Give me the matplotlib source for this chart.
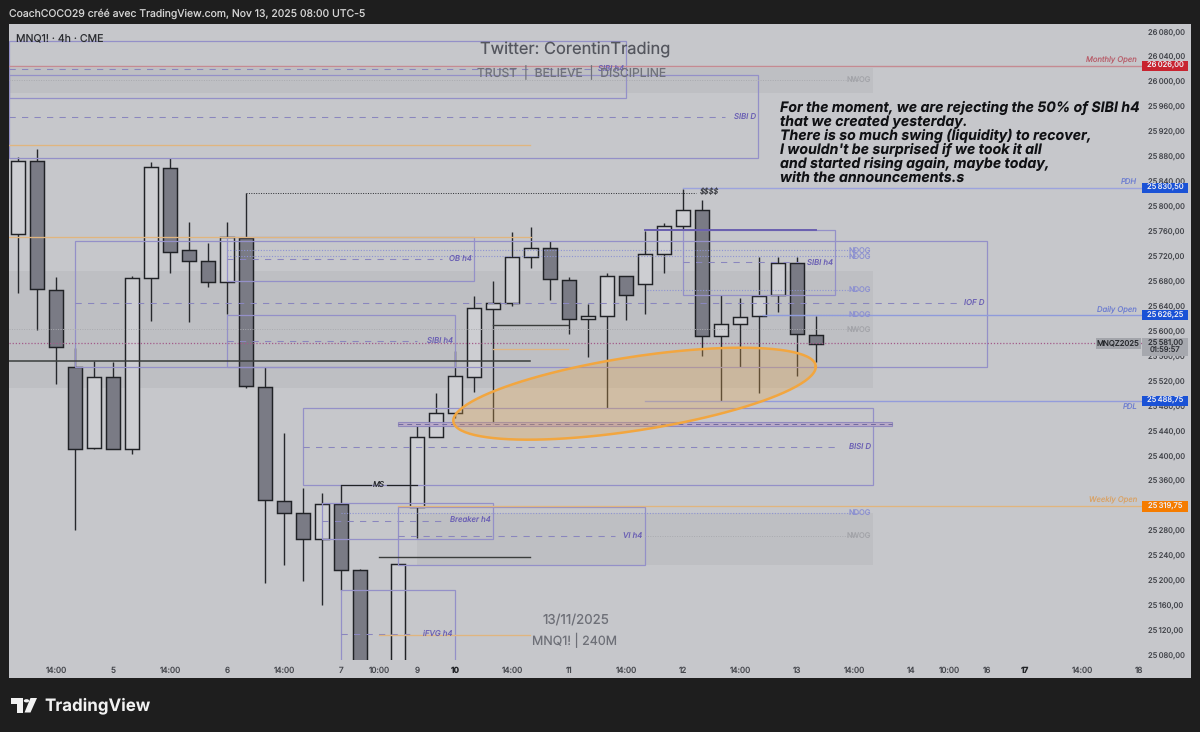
import matplotlib
matplotlib.use("Agg")
import matplotlib.pyplot as plt
import numpy as np
from matplotlib.patches import Rectangle, Polygon, Circle
from matplotlib.transforms import Bbox, TransformedBbox

plt.rcParams['font.family'] = ['Inter', 'DejaVu Sans']
plt.rcParams['text.hinting'] = 'no_hinting'

# ---- data -----
bar_index = [0,1,2,3,4,5,6,7,8,9,10,11,12,13,14,15,16,17,18,20,21,22,23,24,25,26,27,28,29,30,31,32,33,34,35,36,37,38,39,40,41,42]
body_top  = [25874,25874,25667,25543,25527,25527,25686,25864,25863,25731,25713,25751,25750,25511,25328,25309,25323,25323,25218,25227,25431,25469,25529,25638,25646,25720,25734,25734,25683,25625,25689,25689,25724,25769,25795,25795,25612,25623,25657,25710,25710,25594]
body_bot  = [25756,25668,25575,25412,25413,25412,25412,25686,25728,25713,25680,25680,25513,25330,25309,25267,25267,25218,24990,25020,25319,25431,25469,25527,25636,25646,25720,25684,25620,25620,25625,25659,25676,25724,25769,25593,25593,25612,25625,25659,25596,25580]
high      = [25880,25893,25687,25574,25553,25551,25689,25872,25878,25776,25742,25776,25822,25543,25437,25349,25341,25354,25219,25227,25449,25501,25569,25657,25681,25760,25768,25745,25688,25644,25694,25689,25761,25774,25829,25811,25659,25654,25720,25720,25720,25625]
low       = [25662,25602,25516,25282,25412,25411,25404,25617,25694,25615,25671,25628,25509,25197,25226,25200,25161,25185,24950,24990,25269,25431,25461,25503,25452,25641,25702,25651,25596,25559,25477,25619,25628,25694,25763,25561,25489,25543,25501,25631,25529,25551]
is_up     = [1,0,0,0,1,0,1,1,0,0,0,1,0,0,0,0,1,0,0,1,1,1,1,1,1,1,1,0,0,1,1,0,1,1,1,0,1,1,1,1,0,0]

price_ticks = list(range(25080, 26081, 40))
time_tick_pos = [2,5,8,11,14,17,19,21,23,26,29,32,35,38,41,44,47,49,51,53,56,59]
time_tick_lab = ['14:00','5','14:00','6','14:00','7','10:00','9','10','14:00','11','14:00','12','14:00','13','14:00','14','10:00','16','17','14:00','18']
bold_ticks = ['10','17']

LEFT = -0.47
# x0, x1, top, bottom, mid price, mid end, label
boxes = [
    (LEFT, 32, 26066, 25975, 26021, 30.3, 'SIBI h4'),
    (LEFT, 38.95, 26011.5, 25877.6, 25944, 37.2, 'SIBI D'),
    (3, 51, 25745.7, 25543.6, 25645.8, 49.4, 'IOF D'),
    (11, 24, 25751.7, 25681, 25716.4, 22.3, 'OB h4'),
    (11, 23, 25627.3, 25543.6, 25585.6, 21.0, 'SIBI h4'),
    (35, 43, 25762.9, 25658.6, 25710.8, 41.1, 'SIBI h4'),
    (15, 45, 25477.8, 25353.9, 25415.6, 43.2, 'BISI D'),
    (16, 25, 25324.5, 25266.8, 25296, 22.3, 'Breaker h4'),
    (20, 33, 25318.6, 25226.3, 25272.7, 31.4, 'VI h4'),
    (17, 23, 25185.4, 24980, 25114.8, 20.9, 'iFVG h4'),
]
# x0, x1, top, bottom
gray_zones = [(LEFT, 45, 26022.7, 25982.6), (LEFT, 45, 25697, 25509.4), (21, 45, 25309, 25226.3)]
# x0, x1, price, label
ndog_levels = [(11, 44.3, 25730, 'NDOG'), (11, 44.3, 25720.4, 'NDOG'), (33.1, 44.3, 25666.6, 'NDOG'),
               (39, 44.3, 25626.3, 'NDOG'), (17, 44.3, 25309.4, 'NDOG')]
nwog_levels = [(LEFT, 44.3, 26003.5), (LEFT, 44.3, 25603.3), (33, 44.3, 25272.7)]
# x0, x1, price
orange_lines = [(LEFT, 26.95, 25899.7), (LEFT, 27, 25752), (25, 28.95, 25572), (19, 26.95, 25113), (20, 59.3, 25319.75)]
dark_lines = [(LEFT, 26.95, 25553.4, 1.1), (25, 28.95, 25610.5, 1.0), (19, 26.95, 25238.4, 1.0)]
# name, price, x0, fill, level colour, label colour
key_levels = [('Monthly Open', 26026.00, LEFT, '#C8232F', '#C58A92', '#B8606C'),
              ('PDH', 25830.50, 35, '#1A52D6', '#9CA3DE', '#6F7FD0'),
              ('Daily Open', 25626.25, 39.2, '#1A52D6', '#8F9BDB', '#6F7FD0'),
              ('PDL', 25488.75, 33, '#1A52D6', '#939CDB', '#6F7FD0'),
              ('Weekly Open', 25319.75, 20, '#F57C00', '#DDB88E', '#D8A368')]
last_price = 25581.00
# ellipse: centre (bar, price), conjugate semi-axes in bar and price units
ell_c = (32.45, 25500.3)
ell_a = (9.54, 43.3)
ell_b = (0.0, 59.7)

# ---- figure -----
W, H = 1200, 732
TS = 5.9
YS = 5.5
fig = plt.figure(figsize=(W/100, H/100), dpi=100, facecolor='#1E1E1E')
def fx(x): return x/W
def fy(y): return 1-y/H
fig.add_artist(Rectangle((fx(9), fy(678)), 1182/W, 654/H, transform=fig.transFigure,
                         fc='#C6C7CB', ec='none', zorder=-5))
ax = fig.add_axes([fx(9), fy(660), 1134/W, 636/H], facecolor='none')
ax.set_xlim(-0.4737, 59.21)
ax.set_ylim(26131.8-1.604*660, 26131.8-1.604*24)
for s in ax.spines.values():
    s.set_visible(False)
ax.yaxis.tick_right()
ax.set_yticks(price_ticks)
ax.set_yticklabels([f"{p//1000}\u2009{p%1000:03d},00" for p in price_ticks])
ax.tick_params(axis='y', length=0, pad=3.6, labelsize=YS, labelcolor='#44464C')
ax.set_xticks(time_tick_pos)
ax.set_xticklabels(time_tick_lab)
ax.tick_params(axis='x', length=0, pad=4.6, labelsize=TS, labelcolor='#44464C')
clip = TransformedBbox(Bbox([[0, 0], [1143/W, 1]]), fig.transFigure)
for lab in ax.get_xticklabels():
    lab.set_clip_on(True)
    lab.set_clip_box(clip)
    if lab.get_text() in bold_ticks:
        lab.set_fontweight('bold')
        lab.set_color('#222428')

PURPLE = '#9490C8'
LABEL = '#6B60B4'
for x0, x1, top, bot in gray_zones:
    ax.add_patch(Rectangle((x0, bot), x1-x0, top-bot, fc='#000000', alpha=0.04, ec='none', zorder=1))

# candles
bi = np.array(bar_index, float)
ax.vlines(bi, low, high, color='#26282C', lw=1.0, zorder=3)
for i, t, b, u in zip(bar_index, body_top, body_bot, is_up):
    ax.add_patch(Rectangle((i-0.37, b), 0.74, t-b, fc='#CDCED2' if u else '#7A7B85',
                           ec='#202226', lw=1.05, zorder=4))

# boxes
for x0, x1, top, bot, mid, mid_end, lab in boxes:
    ax.add_patch(Rectangle((x0, bot), x1-x0, top-bot, fc='none', ec=PURPLE, lw=0.9, zorder=5))
    ax.plot([x0, mid_end], [mid, mid], color='#8A86BE', lw=0.75, dashes=(6, 6), zorder=5)
    ax.text(x1-0.12, mid, lab, ha='right', va='center', fontsize=5.6, style='italic', color=LABEL, zorder=7)

ax.plot([33, 42], [25762.5, 25762.5], color='#6A60B0', lw=1.4, zorder=5)
ax.add_patch(Rectangle((20, 25448.5), 26, 6.4, fc='#B9A8C8', ec='#8C85BC', lw=0.8, alpha=0.9, zorder=5))
ax.plot([20, 46], [25451.7, 25451.7], color='#6F6A9E', lw=0.7, dashes=(5, 4), zorder=5)

for x0, x1, p, lab in ndog_levels:
    ax.plot([x0, x1], [p, p], color='#8E93D2', lw=0.8, ls=(0, (1, 1.5)), zorder=5)
    ax.text(45-0.12, p, lab, ha='right', va='center', fontsize=5.4, color='#8C90D0', zorder=7)
for x0, x1, p in nwog_levels:
    ax.plot([x0, x1], [p, p], color='#A9AAAF', lw=0.7, ls=(0, (1, 1.5)), zorder=5)
    ax.text(45-0.12, p, 'NWOG', ha='right', va='center', fontsize=5.4, color='#A3A4A9', zorder=7)

for x0, x1, p in orange_lines:
    ax.plot([x0, x1], [p, p], color='#E0B57F', lw=0.95, zorder=5)
for x0, x1, p, w in dark_lines:
    ax.plot([x0, x1], [p, p], color='#3A3D3C', lw=w, zorder=6)

# $$$$ and MS
ax.plot([12, 35.7], [25823, 25823], color='#2A2C30', lw=0.7, ls=(0, (1, 1.5)), zorder=5)
ax.text(35.87, 25823, '$$$$', ha='left', va='center', fontsize=5.4, style='italic', color='#3A3C42', zorder=7, parse_math=False)
ax.plot([17, 18.6], [25353.9, 25353.9], color='#202226', lw=0.9, zorder=6)
ax.plot([19.4, 21], [25353.9, 25353.9], color='#202226', lw=0.9, zorder=6)
ax.text(19, 25353.9, 'MS', ha='center', va='center', fontsize=5.6, style='italic', color='#2A2C30', zorder=7)

# key levels
axis_tr = ax.get_yaxis_transform()
for name, p, x0, fill, col, labcol in key_levels:
    if name != 'Weekly Open':
        ax.plot([x0, 59.3], [p, p], color=col, lw=1.0, zorder=5)
    below = name == 'PDL'
    ax.text(58.9, p + (-9.5 if below else 9.5), name, ha='right', va='center', fontsize=5.5,
            style='italic', color=labcol, zorder=7)
    ax.add_patch(Rectangle((0.9995, p-8.5), 0.0405, 17, transform=axis_tr, clip_on=False,
                           fc=fill, ec='none', zorder=8))
    ax.text(1.0195, p, f"{int(p)//1000}\u2009{int(p)%1000:03d},{int(round((p%1)*100)):02d}", transform=axis_tr, ha='center', va='center',
            fontsize=YS, color='#ECECF2', zorder=9, clip_on=False)

# current price
ax.plot([LEFT, 59.3], [last_price, last_price], color='#A35A8A', lw=0.9, ls=(0, (1, 1.5)), zorder=6)
ax.add_patch(Rectangle((0.9995, last_price-21), 0.0405, 29, transform=axis_tr, clip_on=False,
                       fc='#A6A8AE', ec='none', zorder=8))
ax.text(1.0195, last_price+0.5, '25\u2009581,00', transform=axis_tr, ha='center', va='center', fontsize=YS, color='#2E3036', zorder=9)
ax.text(1.0195, last_price-12.5, '01:59:57', transform=axis_tr, ha='center', va='center', fontsize=YS, color='#2E3036', zorder=9)
ax.add_patch(Rectangle((0.9585, last_price-8.5), 0.0395, 17, transform=axis_tr, clip_on=False,
                       fc='#A2A4AA', ec='none', zorder=8))
ax.text(0.9782, last_price, 'MNQZ2025', transform=axis_tr, ha='center', va='center', fontsize=5.6, color='#26282C', zorder=9)

# ellipse
t = np.linspace(0, 2*np.pi, 200)
ex = ell_c[0] + ell_a[0]*np.cos(t) + ell_b[0]*np.sin(t)
ey = ell_c[1] + ell_a[1]*np.cos(t) + ell_b[1]*np.sin(t)
ax.fill(ex, ey, color='#E9A74A', alpha=0.30, lw=0, zorder=6)
ax.plot(ex, ey, color='#F2A63F', lw=1.8, zorder=6.5)

# free text
fig.text(fx(9), fy(14), 'CoachCOCO29 créé avec TradingView.com, Nov 13, 2025 08:00 UTC-5', color='#D4D4D4',
         fontsize=7.5, va='center', ha='left')
fig.text(fx(16), fy(38), 'MNQ1! · 4h · CME', color='#2A2C30', fontsize=7.6, va='center', ha='left')
fig.text(fx(575.5), fy(49.5), 'Twitter: CorentinTrading', color='#54565E', fontsize=11.85, va='center', ha='center', zorder=20)
fig.text(fx(572), fy(73), 'TRUST  |  BELIEVE  |  DISCIPLINE', color='#70727A', fontsize=8.7, va='center', ha='center', zorder=20)
fig.text(fx(575.5), fy(620), '13/11/2025', color='#6E7078', fontsize=9.6, va='center', ha='center', zorder=20)
fig.text(fx(575), fy(640), 'MNQ1! | 240M', color='#6E7078', fontsize=9.0, va='center', ha='center', zorder=20)
note = ["For the moment, we are rejecting the 50% of SIBI h4", "that we created yesterday.",
        "There is so much swing (liquidity) to recover,", "I wouldn't be surprised if we took it all",
        "and started rising again, maybe today,", "with the announcements.s"]
for k, line in enumerate(note):
    fig.text(fx(780), fy(111.8+14.05*k), line, color='#101114', fontsize=10.2, fontweight='bold', style='italic',
             va='baseline', ha='left', zorder=20)

# logo
def poly(pts):
    fig.add_artist(Polygon([(fx(a), fy(b)) for a, b in pts], closed=True, transform=fig.transFigure, fc='#F2F2F2', ec='none'))
poly([(10.7, 698), (22.5, 698), (22.5, 712.5), (16.5, 712.5), (16.5, 703.5), (10.7, 703.5)])
poly([(30.5, 698), (37, 698), (30.5, 712.5), (24.5, 712.5)])
fig.add_artist(Circle((fx(26.5), fy(700.8)), 2.7/W, transform=fig.transFigure, fc='#F2F2F2', ec='none'))
fig.text(fx(44), fy(706), 'TradingView', color='#F2F2F2', fontsize=12.2, fontweight='bold', va='center', ha='left')

fig.savefig('out.png', dpi=100, facecolor=fig.get_facecolor())
